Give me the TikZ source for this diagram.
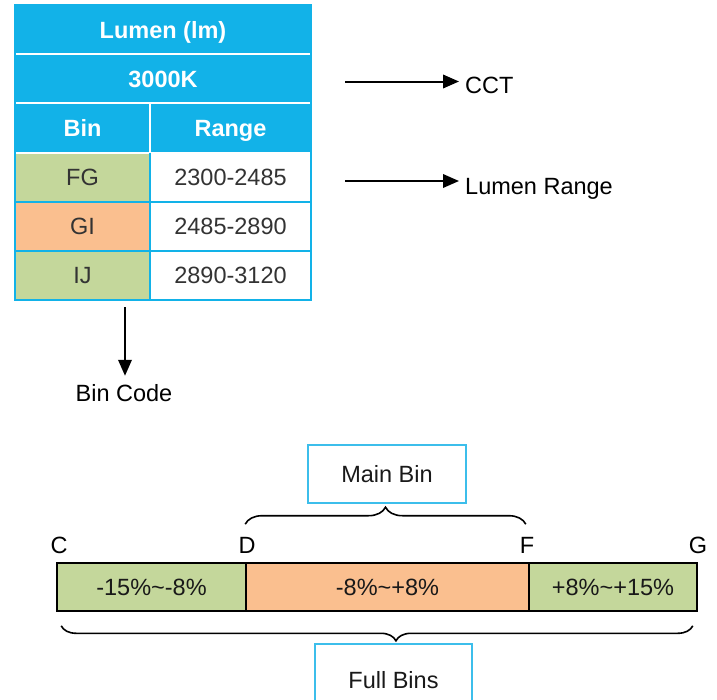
\documentclass[tikz,border=0pt]{standalone}
\usepackage{fontspec}
\setmainfont{Liberation Sans}
\usetikzlibrary{arrows.meta,decorations.pathreplacing}
\definecolor{hdrblue}{RGB}{18,178,232}
\definecolor{lgreen}{RGB}{196,215,155}
\definecolor{lorange}{RGB}{250,191,143}
\definecolor{boxblue}{RGB}{60,190,235}
\definecolor{txtgray}{RGB}{51,51,51}
\definecolor{txtdark}{RGB}{25,25,25}
\begin{document}
\begin{tikzpicture}[x=1pt,y=-1pt,
  font=\fontsize{23.5}{27}\selectfont,
  cell/.style={minimum height=49.2pt, inner sep=0pt, outer sep=0pt, text height=16.8pt, text depth=0pt},
  hdr/.style={cell, fill=hdrblue, text=white, font=\fontsize{23.5}{27}\selectfont\bfseries},
  datacell/.style={cell, text=txtgray},
  lbl/.style={inner sep=0pt, text=black},
  arr/.style={line width=2pt, -{Triangle[length=16pt,width=13.5pt]}},
  seg/.style={draw=black, line width=1.6pt, minimum height=48pt, inner sep=0pt, text=txtdark, text height=16.8pt, text depth=0pt},
  boxed/.style={draw=boxblue, line width=1.6pt, inner sep=0pt, text=txtdark, text height=16.8pt, text depth=0pt},
  bracestyle/.style={decorate, line width=1.6pt}
]
\useasboundingbox (0,0) rectangle (717,699);
\clip (0,0) rectangle (717,699);

% table cells
\node[hdr, minimum width=296pt] (title) at (163,29.6) {Lumen (lm)};
\node[hdr, minimum width=296pt] (cctrow) at (163,78.75) {3000K};
\node[hdr, minimum width=135pt] (bin) at (82.5,127.9) {Bin};
\node[hdr, minimum width=161pt] (range) at (230.5,127.9) {Range};
\node[datacell, fill=lgreen, minimum width=135pt] (fg) at (82.5,177.1) {FG};
\node[datacell, fill=white, minimum width=161pt] (fgr) at (230.5,177.1) {2300-2485};
\node[datacell, fill=lorange, minimum width=135pt] (gi) at (82.5,226.25) {GI};
\node[datacell, fill=white, minimum width=161pt] (gir) at (230.5,226.25) {2485-2890};
\node[datacell, fill=lgreen, minimum width=135pt] (ij) at (82.5,275.4) {IJ};
\node[datacell, fill=white, minimum width=161pt] (ijr) at (230.5,275.4) {2890-3120};

% table lines
\draw[white, line width=2pt] (title.south west) -- (title.south east);
\draw[white, line width=2pt] (cctrow.south west) -- (cctrow.south east);
\draw[white, line width=2pt] (bin.north east) -- (bin.south east);
\draw[white, line width=2pt] (bin.south west) -- (range.south east);
\draw[hdrblue, line width=2pt] (fg.south west) -- (fgr.south east);
\draw[hdrblue, line width=2pt] (gi.south west) -- (gir.south east);
\draw[hdrblue, line width=2pt] (fg.north east) -- (ij.south east);
\draw[hdrblue, line width=2pt] (title.north west) rectangle (ijr.south east);

% side arrows
\node[lbl, anchor=base west, inner xsep=6pt] (cct) at (459,93) {CCT};
\coordinate (cs) at (345,81.5);
\draw[arr] (cs) -- (cs -| cct.west);
\node[lbl, anchor=base west, inner xsep=6pt] (lr) at (459,194) {Lumen Range};
\coordinate (ls) at (345,181);
\draw[arr] (ls) -- (ls -| lr.west);
\node[lbl, anchor=base, inner ysep=8pt] (bc) at (124,401) {Bin Code};
\coordinate (bcs) at (125,307);
\draw[arr] (bcs) -- (bcs |- bc.north);

% bar
\node[seg, fill=lgreen, minimum width=189pt] (s1) at (151.5,587) {-15\%\textasciitilde-8\%};
\node[seg, fill=lorange, minimum width=283pt] (s2) at (387.5,587) {-8\%\textasciitilde+8\%};
\node[seg, fill=lgreen, minimum width=168pt] (s3) at (613,587) {+8\%\textasciitilde+15\%};

% letters
\node[lbl, anchor=base] (lc) at (59,553) {C};
\node[lbl, anchor=base] (ld) at (247,553) {D};
\node[lbl, anchor=base] (lf) at (527,553) {F};
\node[lbl, anchor=base] (lg) at (698,553) {G};

% braces
\draw[bracestyle, decoration={brace, amplitude=17pt}]
  ([yshift=38pt]s2.north west) -- ([yshift=38pt, xshift=-4pt]s2.north east);
\draw[bracestyle, decoration={brace, mirror, amplitude=15pt, aspect=0.53}]
  ([yshift=-14pt, xshift=5pt]s1.south west) -- ([yshift=-14pt, xshift=-5pt]s3.south east);

% boxes
\node[boxed, minimum width=158pt, minimum height=58pt] (mb) at (387,474) {Main Bin};
\node[boxed, minimum width=157pt, minimum height=72pt] (fb) at (393.5,680) {Full Bins};
\end{tikzpicture}
\end{document}
